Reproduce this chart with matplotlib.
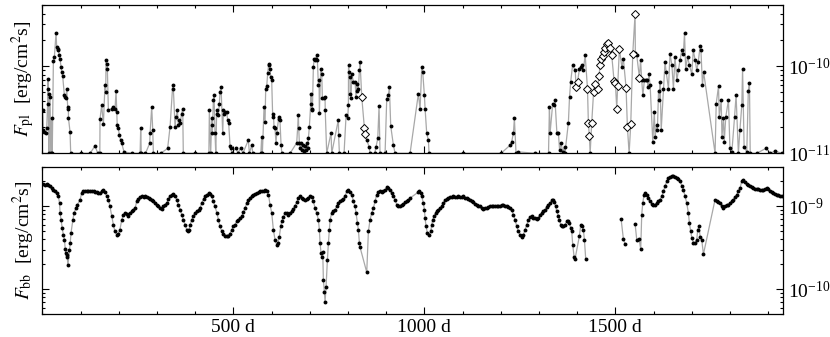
import numpy as np
import matplotlib
matplotlib.use('agg')
import matplotlib.pyplot as plt
from matplotlib.ticker import (FixedLocator, LogLocator, LogFormatterMathtext, MultipleLocator,
                               FuncFormatter, NullFormatter)

plt.rcParams['font.family'] = 'serif'
plt.rcParams['font.serif'] = ['Liberation Serif', 'DejaVu Serif']
plt.rcParams['mathtext.fontset'] = 'stix'

# power-law flux, (day, flux in 1e-11 erg/cm2/s); 1.0 = at the lower limit
pl_dots = np.array([
    (1, 3.12), (2.7, 1.85), (5.3, 1.77), (9.7, 1.69), (11.4, 1.93), (14, 3.72), (14.5, 5.52), (15, 7.05),
    (17, 1.0), (18.4, 4.84), (20.2, 4.44), (22, 1.0), (24.5, 2.51), (26, 1.0), (28.9, 11.3), (31.5, 12.7),
    (35.9, 24.1), (37.6, 16.5), (40.2, 15.8), (42, 15.2), (44.6, 13.3), (46.3, 12.1), (49, 9.76), (50.7, 8.56),
    (53.3, 7.64), (57.7, 4.63), (59.4, 4.44), (62, 4.25), (63.8, 5.52), (66.4, 3.41), (68.1, 3.26), (68.5, 2.51),
    (72.5, 1.77), (74.3, 1.0), (100, 1.0), (125, 1.0), (138, 1.22), (145, 1.0), (150.5, 1.0), (151, 2.47),
    (155.4, 3.56), (159.8, 2.16), (164, 6.03), (166, 5.06), (166.7, 11.6), (168.5, 10.6), (170.2, 9.34),
    (172.9, 3.12), (181.6, 3.26), (186, 3.41), (190.3, 3.26), (193, 5.19), (194.7, 2.99), (196, 2.11),
    (199, 1.93), (201.6, 1.62), (205, 1.42), (207.8, 1.30), (213.8, 1.04), (235, 1.0), (256, 1.0), (257.5, 1.96),
    (259, 1.0), (270, 1.0), (281, 1.30), (282, 1.69), (286.3, 3.41), (289, 1.85), (290.7, 1.0), (310, 1.0),
    (328, 1.14), (334.3, 2.01), (341.3, 6.03), (343, 5.52), (347.4, 2.01), (350, 2.62), (353.5, 3.12),
    (356.1, 2.11), (357.9, 2.40), (360.5, 2.20), (364.8, 2.86), (367.5, 3.26), (369, 1.0), (400, 1.0),
    (436, 1.0), (437.2, 3.12), (440.7, 1.0), (443.4, 2.51), (444, 2.11), (445.1, 1.69), (447.7, 4.06),
    (449.5, 4.63), (452, 1.69), (454, 1.0), (456.5, 3.12), (458.2, 2.86), (460.8, 2.74), (463.4, 3.72),
    (465.2, 5.06), (467.8, 5.77), (472.2, 1.69), (473.9, 3.12), (475.7, 2.86), (479.1, 2.99), (482.6, 2.99),
    (485.2, 2.40), (487.8, 2.20), (491.4, 1.22), (494, 1.14), (495.7, 1.0), (507, 1.16), (512, 1.0),
    (519.3, 1.16), (525, 1.0), (539.3, 1.42), (542, 1.0), (548, 1.24), (551, 1.0), (572, 1.0), (574.2, 1.55),
    (576, 1.0), (580.4, 3.41), (583, 2.30), (584.7, 5.52), (587.3, 5.87), (590, 8.3), (592.6, 10.6),
    (594.3, 10.2), (596, 9.34), (597.8, 7.5), (600.4, 6.87), (603, 2.62), (604.8, 2.86), (606.5, 2.01),
    (609.1, 1.93), (611.7, 1.30), (613.5, 1.69), (619, 2.6), (620.5, 2.5), (622, 2.4), (624.9, 1.25),
    (627, 1.0), (648.5, 1.0), (665.9, 1.32), (670.3, 2.74), (671.1, 1.96), (672.9, 1.30), (675, 1.15),
    (677, 1.3), (679, 1.1), (682, 1.25), (685, 1.05), (688, 1.2), (691, 1.1), (693, 1.3), (695, 1.15),
    (696.4, 1.48), (699, 2.01), (702.6, 3.72), (703.4, 4.84), (705.2, 3.26), (706.9, 3.12), (709.5, 9.76),
    (711.3, 11.9), (713.9, 11.6), (715.6, 12.1), (718.3, 13.3), (720, 11.6), (722.6, 6.03), (724.4, 6.87),
    (725.2, 2.91), (728.7, 9.34), (731.4, 8.19), (733.1, 4.25), (737.5, 4.32), (740.1, 4.44), (740.5, 3.12),
    (744.4, 1.0), (755.8, 1.72), (757.5, 1.0), (775, 2.44), (775.5, 1.62), (777.6, 1.0), (789.8, 1.0),
    (795.1, 2.74), (799.4, 2.51), (801.2, 3.56), (801.5, 10.2), (803.8, 8.56), (805.5, 7.5), (805.8, 4.84),
    (808.1, 4.25), (809.9, 8.19), (814.3, 6.58), (818.6, 6.58), (821.2, 4.44), (823, 6.30), (824.7, 5.19),
    (827.3, 5.52), (830, 8.94), (831.7, 11.1), (849.2, 1.42), (855.3, 1.19), (857.9, 1.0), (870, 1.0),
    (873.6, 1.19), (878, 1.48), (881.4, 3.47), (884, 1.0), (897.2, 1.0), (901.5, 4.17), (905.9, 4.71),
    (908.5, 5.77), (912, 2.05), (919, 1.24), (923.3, 1.0), (962.6, 1.0), (984.4, 4.84), (988.8, 3.18),
    (993.1, 9.76), (995.7, 8.56), (1000.1, 4.63), (1001.9, 3.26), (1006.2, 1.69), (1010.6, 1.42),
    (1012.3, 1.0), (1100, 1.0), (1200.8, 1.0), (1224.4, 1.24), (1228.7, 1.36), (1233.1, 1.72),
    (1235.7, 2.51), (1240, 1.0), (1246, 1.04), (1290, 1.0), (1325, 1.0), (1327.4, 3.41), (1329, 1.69),
    (1336, 3.72), (1340, 3.56), (1342, 4.06), (1347, 1.69), (1351, 1.69), (1354, 1.09), (1358, 1.30),
    (1362, 1.04), (1367, 1.19), (1368, 1.0), (1377, 2.24), (1380, 4.44), (1383, 6.58), (1388, 10.2),
    (1395, 8.94), (1406, 9.34), (1410, 9.76), (1413, 10.2), (1416, 8.94), (1421, 13.3), (1434, 1.0),
    (1517, 9.76), (1521, 12.1), (1536, 1.0), (1552.3, 14.2), (1556, 13.3), (1566, 11.8), (1569, 6.87),
    (1572, 4.63), (1576, 6.87), (1580, 7.0), (1584, 7.0), (1585, 5.77), (1588, 8.05), (1591, 6.03),
    (1598, 1.36), (1602, 2.99), (1604, 1.55), (1608, 2.11), (1610, 1.85), (1613, 5.19), (1615, 4.06),
    (1617, 6.58), (1620, 1.85), (1626, 5.52), (1630, 11.1), (1633, 8.56), (1639, 5.52), (1643, 13.8),
    (1648, 10.2), (1652, 5.52), (1656, 12.7), (1661, 6.87), (1665, 8.94), (1669, 11.6), (1674, 15.2),
    (1678, 13.8), (1681, 23.9), (1684, 9.34), (1689, 12.7), (1694, 10.2), (1700, 8.05), (1704, 15.2),
    (1709, 11.6), (1713, 8.94), (1717, 11.1), (1722, 17.2), (1724, 15.2), (1728, 6.03), (1731, 8.56),
    (1761, 1.0), (1764, 3.72), (1770, 5.87), (1772, 2.62), (1777, 4.06), (1779, 1.55), (1783, 2.51),
    (1785, 1.36), (1789, 2.62), (1796, 4.06), (1800, 1.14), (1805, 1.04), (1812, 2.62), (1816, 4.63),
    (1822, 1.0), (1826, 1.85), (1831, 3.56), (1833, 9.34), (1837, 1.19), (1844, 1.04), (1848, 5.19),
    (1851, 6.41), (1853, 1.0), (1870, 1.0), (1894, 1.14), (1906, 1.0), (1918, 1.07), (1935, 1.0),
])

# same quantity, other observing mode (open diamonds)
pl_diamonds = np.array([
    (836.1, 4.44), (843, 1.96), (845, 1.65), (1397, 5.77), (1401, 6.58), (1427, 5.52), (1429.4, 2.20),
    (1432, 1.58), (1438, 2.20), (1443, 5.06), (1447, 6.30), (1454, 5.52), (1457, 7.64), (1460, 10.2),
    (1463, 12.1), (1467, 12.9), (1469, 14.5), (1473, 16.3), (1477.4, 18.0), (1481.8, 18.3), (1486, 16.3),
    (1490.5, 13.3), (1496.6, 6.76), (1500, 6.41), (1503.6, 3.26), (1506, 5.87), (1510.6, 15.8), (1528, 5.67),
    (1531.5, 2.01), (1540.3, 2.16), (1545.5, 13.8), (1551.6, 39.6), (1563, 7.38),
])

# blackbody flux, (day, flux in 1e-10 erg/cm2/s); nan = break in the line
bb_points = np.array([
    (1, 18.8), (7, 18.3), (11, 18.8), (16, 18.3), (20, 17.5), (25, 16.7), (29, 15.9), (33, 15.2), (38, 14.5),
    (42, 13.2), (45, 11.0), (46.5, 8.3), (49, 6.9), (52, 5.5), (55, 4.55), (58, 3.96), (60, 3.05), (62, 2.73),
    (64, 2.61), (65, 2.49), (67, 1.97), (71, 3.0), (73, 3.6), (75, 4.76), (80, 6.9), (83, 8.3), (88, 9.57),
    (92, 10.5), (99, 12.1), (103, 14.5), (107, 15.2), (112, 15.5), (116, 15.2), (120, 15.4), (125, 15.5),
    (129, 15.3), (134, 15.2), (138, 15.0), (142, 14.9), (147, 14.7), (151, 14.5), (155, 15.2), (160, 15.7),
    (164, 14.9), (169, 13.2), (173, 12.1), (177, 10.0), (182, 7.59), (186, 6.01), (190, 4.99), (195, 4.55),
    (199, 4.68), (203, 5.23), (208, 6.91), (212, 7.94), (217, 8.32), (221, 8.17), (225, 7.59), (230, 8.32),
    (234, 8.71), (238, 9.12), (243, 9.57), (247, 11.5), (251, 12.3), (256, 13.0), (260, 13.2), (265, 13.0),
    (269, 13.5), (273, 13.0), (278, 12.6), (282, 12.3), (287, 11.9), (291, 11.5), (295, 11.0), (299, 10.5),
    (304, 10.0), (308, 9.57), (313, 9.31), (317, 10.0), (321, 10.5), (326, 11.0), (330, 12.3), (334, 13.2),
    (339, 13.9), (343, 14.1), (347, 13.5), (352, 12.1), (356, 10.5), (361, 9.12), (365, 7.94), (369, 6.91),
    (374, 6.01), (378, 5.23), (381, 4.99), (384, 5.23), (387, 6.01), (391, 6.91), (395, 7.59), (400, 8.32),
    (404, 8.71), (409, 9.12), (413, 9.57), (417, 11.0), (422, 12.3), (426, 13.2), (430, 13.9), (435, 14.5),
    (439, 14.1), (443, 13.2), (448, 11.5), (452, 10.0), (457, 8.32), (461, 6.91), (465, 5.74), (470, 4.99),
    (474, 4.68), (478, 4.42), (483, 4.42), (487, 4.42), (491, 4.68), (496, 5.23), (500, 5.74), (504, 6.01),
    (509, 6.59), (513, 6.91), (518, 7.24), (522, 7.59), (526, 8.47), (531, 9.57), (535, 11.0), (539, 11.8),
    (544, 12.6), (548, 13.5), (552, 13.9), (557, 14.3), (561, 14.5), (566, 14.8), (570, 15.2), (574, 15.5),
    (579, 15.2), (583, 15.7), (587, 15.2), (592, 13.9), (596, 10.5), (600.5, 8.32), (604.8, 5.23),
    (609.2, 3.96), (613.6, 3.44), (616.2, 3.61), (620.5, 4.34), (624, 5.74), (626.6, 6.59), (631, 7.44),
    (635.4, 8.32), (639.7, 8.32), (644.1, 7.94), (648.5, 8.32), (652.8, 8.71), (657.2, 9.31), (661.5, 10.2),
    (665.9, 11.2), (670.3, 12.6), (674.6, 13.2), (679, 12.6), (683.4, 12.3), (687.7, 11.8), (692.1, 12.3),
    (696.4, 12.6), (700.8, 13.5), (705.2, 13.0), (709.5, 11.5), (713.9, 9.57), (718.3, 8.32), (722.6, 6.91),
    (725.2, 5.23), (727, 3.61), (729.6, 2.73), (731.4, 2.49), (734, 2.86), (735.7, 1.30), (738.3, 0.94),
    (740.1, 0.71), (742.7, 1.08), (746.2, 2.26), (748.8, 3.61), (751.4, 5.23), (753.2, 6.91), (757.5, 8.32),
    (761.9, 8.71), (766.3, 9.12), (770.6, 10.0), (775, 11.0), (779.3, 11.5), (783.7, 11.8), (788.1, 12.3),
    (792.4, 13.2), (796.8, 15.2), (801.2, 15.7), (805.5, 14.9), (809.9, 13.9), (814.3, 11.5), (818.6, 10.0),
    (821.2, 8.32), (824.7, 6.30), (827.3, 5.23), (830, 3.61), (831.7, 3.22), (849.2, 1.61), (853.5, 4.99),
    (857.9, 6.91), (862.2, 8.32), (866.6, 9.57), (871, 11.5), (875.3, 13.9), (879.7, 14.8), (884.1, 15.2),
    (888.4, 14.9), (892.8, 15.2), (897.2, 15.9), (901.5, 17.0), (905.9, 16.7), (910.2, 15.9), (914.6, 14.5),
    (919, 13.2), (923.3, 12.1), (927.7, 10.5), (932.1, 10.0), (936.4, 10.0), (940.8, 10.3), (945.1, 10.7),
    (949.5, 11.2), (953.9, 11.5), (958.2, 11.8), (962.6, 12.6), (984.4, 14.9), (987, 15.2), (990.5, 14.5),
    (993.1, 13.2), (997.5, 11.0), (1000.1, 9.12), (1001.9, 7.24), (1004.5, 5.74), (1008, 4.76), (1013.2, 4.55),
    (1016.7, 4.99), (1019.3, 6.01), (1021.9, 6.91), (1025.4, 7.59), (1029.8, 8.32), (1032.4, 8.71),
    (1036.8, 9.12), (1041.1, 9.57), (1045.5, 10.0), (1049.9, 11.0), (1054.2, 11.8), (1058.6, 12.3),
    (1062.9, 12.6), (1067.3, 13.0), (1071.7, 12.9), (1076, 13.2), (1080.4, 13.1), (1084.8, 13.0),
    (1089.1, 13.2), (1093.5, 13.0), (1097.9, 13.1), (1102.2, 13.2), (1106.6, 12.6), (1110.9, 12.6),
    (1115.3, 12.2), (1119.7, 11.8), (1124, 11.5), (1128.4, 11.2), (1132.8, 10.8), (1137.1, 10.5),
    (1141.5, 10.2), (1145.8, 10.0), (1150.2, 9.6), (1154.6, 9.31), (1159, 9.45), (1163.3, 9.57), (1167.7, 9.8),
    (1172, 10.0), (1176.4, 10.1), (1180.7, 10.2), (1185.1, 10.2), (1189.5, 10.2), (1193.8, 10.2),
    (1198.2, 10.2), (1202.6, 10.3), (1206.9, 10.3), (1211.3, 10.1), (1215.6, 10.0), (1220, 9.8),
    (1224.4, 9.57), (1228.7, 9.12), (1233.1, 7.94), (1237.5, 6.91), (1241.8, 5.74), (1246.2, 4.99),
    (1250.6, 4.55), (1254.9, 4.34), (1259.3, 4.55), (1263.6, 5.23), (1268, 6.01), (1272.4, 6.91),
    (1276.7, 7.44), (1281.1, 7.59), (1285.5, 7.24), (1289.8, 7.24), (1294.2, 7.03), (1298.5, 7.24),
    (1302.9, 7.94), (1307.3, 8.32), (1311.6, 8.71), (1316, 9.12), (1320.4, 9.84), (1324.7, 10.5),
    (1329.1, 11.0), (1333.4, 11.8), (1337.8, 12.1), (1340.4, 11.2), (1343.9, 10.0), (1346.5, 8.71),
    (1350.9, 7.73), (1353.5, 6.91), (1357, 6.01), (1359.6, 5.74), (1364, 5.74), (1368.3, 6.01), (1372.7, 6.59),
    (1377.1, 6.72), (1379.7, 6.30), (1383.2, 5.47), (1385.8, 4.99), (1388.4, 3.44), (1391.9, 2.49),
    (1394.5, 2.33), (1405.9, 4.42), (1409.4, 6.01), (1412.8, 5.74), (1416.3, 5.23), (1419, 3.96),
    (1422.4, 2.33), (1470, np.nan), (1515, 7.03), (1521.1, 4.03), (1525.4, 3.54), (1540, np.nan),
    (1551.6, 6.18), (1556, 3.96), (1562.1, 4.07), (1566.4, 3.05), (1569, 7.94), (1571.7, 11.0), (1575.2, 13.9),
    (1577.8, 14.5), (1582.1, 13.9), (1586.5, 12.6), (1590.9, 11.5), (1595.2, 10.8), (1599.6, 10.5),
    (1604, 10.5), (1608.3, 11.0), (1612.7, 11.5), (1617, 12.1), (1621.4, 13.2), (1625.8, 15.2),
    (1630.1, 17.5), (1634.5, 20.1), (1638.8, 21.7), (1643.2, 22.7), (1647.6, 23.1), (1651.9, 23.1),
    (1656.3, 22.7), (1660.7, 22.1), (1665, 21.5), (1669.4, 20.1), (1673.8, 17.8), (1678.1, 15.9),
    (1682.5, 13.2), (1686.8, 11.0), (1691.2, 8.32), (1693.8, 6.30), (1697.3, 4.99), (1699.9, 4.22),
    (1704.3, 3.67), (1708.7, 3.67), (1713, 3.96), (1715.6, 5.23), (1719.1, 5.74), (1721.7, 4.34),
    (1726.1, 3.96), (1730.5, 2.65), (1761, 12.1), (1765.4, 11.5), (1769.7, 11.2), (1774.1, 11.0),
    (1778.5, 10.0), (1782.8, 9.57), (1787.2, 10.0), (1791.6, 10.3), (1795.9, 10.5), (1800.3, 11.0),
    (1804.6, 11.5), (1809, 12.1), (1813.4, 13.0), (1817.7, 13.9), (1822.1, 15.2), (1826.5, 16.7),
    (1830.8, 20.1), (1835.2, 21.1), (1839.5, 19.6), (1843.9, 18.8), (1848.3, 18.3), (1852.6, 17.5),
    (1857, 17.1), (1861.4, 16.7), (1865.7, 16.4), (1870.1, 16.2), (1874.5, 16.0), (1878.8, 15.9),
    (1883.2, 15.8), (1887.5, 15.7), (1891.9, 16.2), (1896.3, 16.7), (1900.6, 16.2), (1905, 15.2),
    (1909.3, 14.8), (1913.7, 14.5), (1918, 14.2), (1922.4, 13.9), (1926.8, 13.7), (1931.2, 13.5),
    (1935.5, 13.2),
])

x_major = [500, 1000, 1500]
pl_yticks = [1e-11, 1e-10]
bb_yticks = [1e-10, 1e-9]

LINE_COLOR = '#a8a8a8'
FS = 14

fig = plt.figure(figsize=(8.3, 3.37), dpi=100)
ax1 = fig.add_axes([0.051, 0.545, 0.892, 0.440])
ax2 = fig.add_axes([0.051, 0.067, 0.892, 0.438])

# top panel: one light line through both marker kinds, in time order
all_pl = np.vstack([pl_dots, pl_diamonds])
all_pl = all_pl[np.argsort(all_pl[:, 0], kind='stable')]
ax1.plot(all_pl[:, 0], all_pl[:, 1] * 1e-11, '-', color=LINE_COLOR, lw=0.9, zorder=1)
ax1.plot(pl_dots[:, 0], pl_dots[:, 1] * 1e-11, 'o', color='k', ms=2.8, mew=0, zorder=2)
ax1.plot(pl_diamonds[:, 0], pl_diamonds[:, 1] * 1e-11, 'D', mfc='white', mec='k',
         ms=4.4, mew=0.7, zorder=3)
ax1.set_yscale('log')
ax1.set_ylim(1e-11, 5e-10)
ax1.yaxis.set_major_locator(FixedLocator(pl_yticks))

# bottom panel
ax2.plot(bb_points[:, 0], bb_points[:, 1] * 1e-10, '-', color=LINE_COLOR, lw=0.9, zorder=1)
ax2.plot(bb_points[:, 0], bb_points[:, 1] * 1e-10, 'o', color='k', ms=2.8, mew=0, zorder=2)
ax2.set_yscale('log')
ax2.set_ylim(5e-11, 3e-9)
ax2.yaxis.set_major_locator(FixedLocator(bb_yticks))

for ax in (ax1, ax2):
    ax.set_xlim(0, 1938)
    ax.xaxis.set_major_locator(FixedLocator(x_major))
    ax.xaxis.set_minor_locator(MultipleLocator(100))
    ax.yaxis.set_minor_locator(LogLocator(base=10, subs=np.arange(2, 10)))
    ax.yaxis.set_major_formatter(LogFormatterMathtext())
    ax.yaxis.set_minor_formatter(NullFormatter())
    ax.tick_params(which='both', direction='in', top=True, bottom=True, left=True, right=True,
                   labelleft=False, labelright=True, labelsize=FS, width=0.8)
    ax.tick_params(which='major', length=5)
    ax.tick_params(which='minor', length=2.5)
    for s in ax.spines.values():
        s.set_linewidth(0.9)

ax1.tick_params(labelbottom=False)
ax2.xaxis.set_major_formatter(FuncFormatter(lambda v, p: '%d d' % v))
ax2.tick_params(axis='x', pad=3)

ax1.set_ylabel(r'$F_{\rm pl}$  [erg/cm$^2$s]', fontsize=FS, labelpad=4)
ax2.set_ylabel(r'$F_{\rm bb}$  [erg/cm$^2$s]', fontsize=FS, labelpad=4)

fig.savefig('out.png', dpi=100)
